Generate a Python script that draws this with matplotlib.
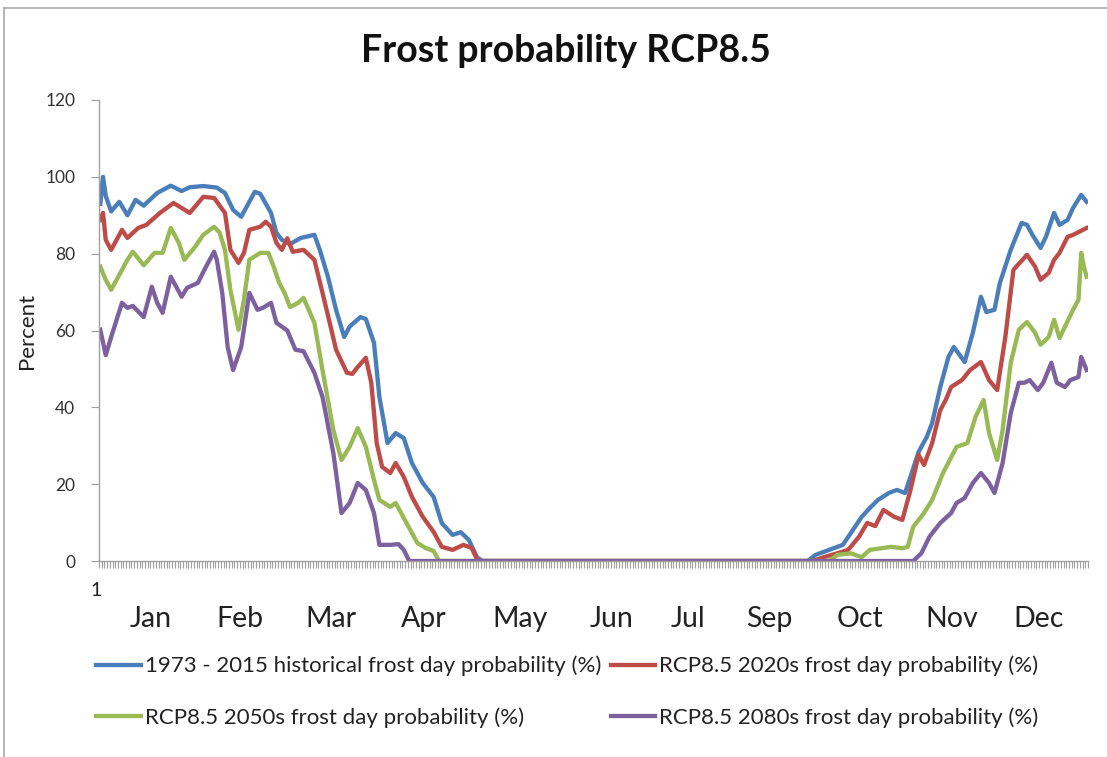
import numpy as np
import matplotlib
matplotlib.use("Agg")
import matplotlib.pyplot as plt
from matplotlib.lines import Line2D

plt.rcParams['font.family'] = ['Lato', 'DejaVu Sans']

# day-of-year / percent readings for each series
hist_days = [1, 2, 3, 5, 8, 11, 14, 17, 22, 27, 31, 34, 39, 44, 47, 50, 53, 55, 58, 60,
             64, 66, 68, 71, 75, 80, 82, 85, 88, 91, 93, 97, 99, 102, 104, 107, 110, 113,
             116, 120, 124, 127, 131, 134, 137, 140, 142, 262, 265, 270, 275, 278, 282,
             285, 288, 292, 295, 298, 300, 303, 306, 308, 311, 314, 316, 320, 323, 326,
             328, 331, 333, 337, 341, 343, 345, 348, 350, 353, 355, 358, 360, 363, 365]
hist_vals = [93, 100, 95, 91, 93.5, 90, 94, 92.5, 95.8, 97.7, 96.3, 97.3, 97.6, 97.2, 95.8,
             91.4, 89.6, 92.2, 96.1, 95.6, 90.6, 85.4, 83.6, 82.5, 84.1, 84.9, 81, 74, 65.4,
             58.3, 61, 63.5, 63, 56.8, 42.7, 30.7, 33.3, 32, 25.5, 20.3, 16.7, 9.9, 6.8, 7.5,
             5.5, 1, 0, 0, 1.6, 2.9, 4.2, 7.3, 11.5, 13.8, 15.9, 17.7, 18.5, 17.7, 21.9, 28.4,
             32.3, 35.9, 45.3, 53.1, 55.7, 51.8, 59.4, 68.8, 64.8, 65.4, 72.4, 81, 88, 87.5,
             84.9, 81.5, 84.4, 90.6, 87.5, 88.8, 91.9, 95.3, 93.5]

r2020_days = [1, 2, 3, 5, 9, 11, 15, 18, 23, 28, 31, 34, 39, 43, 47, 49, 52, 54, 56, 60,
              62, 64, 66, 68, 70, 72, 76, 80, 83, 86, 88, 92, 94, 96, 99, 101, 103, 105, 108,
              110, 113, 116, 120, 124, 127, 131, 135, 138, 140, 141, 264, 268, 273, 277, 281,
              284, 287, 290, 294, 297, 300, 303, 305, 308, 311, 313, 315, 319, 322, 326, 329,
              332, 335, 338, 343, 346, 348, 351, 353, 355, 358, 360, 362, 365]
r2020_vals = [88.8, 90.6, 83.6, 81, 86.2, 84.1, 86.7, 87.5, 90.6, 93.2, 91.9, 90.6, 94.8,
              94.5, 90.6, 81, 77.6, 80.2, 86.2, 87, 88.3, 87, 82.8, 81, 84, 80.5, 81, 78.4,
              69.8, 61, 55, 49, 48.7, 50.5, 52.9, 46.4, 30.7, 24.5, 22.9, 25.5, 21.9, 16.7,
              11.5, 7.6, 3.7, 2.9, 4.2, 3.4, 0.5, 0, 0, 1, 2, 2.9, 6.3, 9.9, 9.1, 13.3, 11.5,
              10.7, 18.5, 27.6, 25, 30.7, 39.3, 41.9, 45.3, 47.1, 49.7, 51.8, 47.1, 44.5, 58.3,
              75.8, 79.7, 76.6, 73.2, 75, 78.4, 80.2, 84.4, 84.9, 85.6, 86.7]

r2050_days = [1, 3, 5, 9, 11, 13, 17, 21, 24, 27, 30, 32, 36, 39, 43, 45, 47, 49, 52, 54,
              56, 60, 63, 65, 67, 69, 71, 74, 76, 80, 83, 87, 90, 93, 96, 99, 102, 104, 108,
              110, 114, 118, 121, 124, 126, 270, 273, 278, 282, 285, 289, 293, 297, 299, 301,
              305, 308, 312, 317, 321, 324, 327, 329, 332, 334, 337, 340, 343, 346, 348, 351,
              353, 355, 357, 360, 362, 363, 364, 365]
r2050_vals = [76.6, 73.2, 70.6, 75.8, 78.4, 80.5, 77, 80.2, 80.2, 86.7, 82.8, 78.4, 81.8,
              84.9, 87, 85.5, 81, 70.6, 60.2, 68, 78.4, 80.2, 80.2, 76.6, 72.4, 69.8, 66.1,
              67.2, 68.5, 62, 49.7, 34.1, 26.3, 29.7, 34.6, 29.7, 21.1, 15.9, 14.1, 15.1, 9.9,
              4.7, 3.4, 2.6, 0, 0, 1.6, 2, 1, 2.9, 3.3, 3.7, 3.3, 3.7, 8.9, 12.5, 15.9, 22.9,
              29.7, 30.7, 37.5, 41.9, 33.3, 26.3, 34.1, 51.6, 60.2, 62.2, 59.4, 56.3, 58.3,
              62.8, 58, 61, 65.4, 68, 80.2, 76.6, 74]

r2080_days = [1, 3, 5, 9, 11, 13, 17, 20, 22, 24, 27, 31, 33, 37, 40, 43, 44, 46, 48, 50,
              53, 56, 59, 61, 64, 66, 68, 70, 73, 76, 80, 83, 87, 90, 93, 96, 99, 102, 104,
              108, 111, 113, 115, 301, 304, 307, 311, 315, 317, 320, 323, 326, 329, 331, 334,
              337, 340, 342, 344, 347, 349, 352, 354, 357, 359, 362, 363, 365]
r2080_vals = [60.2, 53.6, 58.3, 67.2, 65.9, 66.4, 63.5, 71.4, 67.2, 64.6, 74, 68.8, 71.1,
              72.4, 76.6, 80.5, 78.4, 69.8, 55.7, 49.7, 55.7, 69.8, 65.4, 65.9, 67.2, 62, 61,
              60, 55, 54.6, 49, 42.7, 28.1, 12.5, 15.1, 20.3, 18.5, 12.5, 4.2, 4.2, 4.4, 2.9,
              0, 0, 2, 6.3, 9.9, 12.5, 15.1, 16.4, 20.3, 22.9, 20.3, 17.7, 25.5, 38.5, 46.4,
              46.4, 47.1, 44.5, 46.4, 51.6, 46.4, 45.3, 47.1, 47.9, 53.1, 49.7]

series = [
    (hist_days, hist_vals, '1973 - 2015 historical frost day probability (%)', '#4A7EBB'),
    (r2020_days, r2020_vals, 'RCP8.5 2020s frost day probability (%)', '#BE4B48'),
    (r2050_days, r2050_vals, 'RCP8.5 2050s frost day probability (%)', '#98B954'),
    (r2080_days, r2080_vals, 'RCP8.5 2080s frost day probability (%)', '#7D60A0'),
]

months = ['Jan', 'Feb', 'Mar', 'Apr', 'May', 'Jun', 'Jul', 'Sep', 'Oct', 'Nov', 'Dec']
month_pos = [19.7, 52.5, 86.1, 120.4, 155.8, 189.8, 217.8, 248, 281.3, 315.2, 347.3]

fig = plt.figure(figsize=(11.07, 7.57), dpi=100)
ax = fig.add_axes([0.0894, 0.2589, 0.8934, 0.609])

lines = {}
for d, v, lab, col in series:
    ln, = ax.plot(d, v, color=col, lw=3.1, label=lab, solid_joinstyle='round')
    lines[lab] = ln

ax.set_xlim(0.5, 365.5)
ax.set_ylim(0, 120)
ax.set_yticks(np.arange(0, 121, 20))
ax.set_xticks(np.arange(0.5, 366, 1))
ax.set_xticklabels([])
ax.tick_params(axis='x', length=5, width=0.8, color='#A0A0A0')
ax.tick_params(axis='y', length=6, width=0.8, color='#A0A0A0', labelsize=12.5,
               labelcolor='#333333', pad=11)
for s in ['top', 'right']:
    ax.spines[s].set_visible(False)
for s in ['left', 'bottom']:
    ax.spines[s].set_color('#A0A0A0')
    ax.spines[s].set_linewidth(1.0)

ax.set_ylabel('Percent', fontsize=16, color='#222222', labelpad=6)

# category label "1" and month labels under the axis
trans = ax.get_xaxis_transform()
ax.text(-0.5, -0.065, '1', transform=trans, ha='center', va='center', fontsize=14,
        color='#222222')
for m, p in zip(months, month_pos):
    ax.text(p, -0.125, m, transform=trans, ha='center', va='center', fontsize=20.5,
            color='#222222')

fig.text(0.511, 0.932, 'Frost probability RCP8.5', ha='center', va='center',
         fontsize=27, fontweight='bold', color='#111111')

order = [series[0][2], series[2][2], series[1][2], series[3][2]]
fig.legend([lines[k] for k in order], order, ncol=2, frameon=False,
           loc='upper left', bbox_to_anchor=(0.069, 0.16), fontsize=16,
           handlelength=2.0, handletextpad=0.2, labelspacing=1.4, columnspacing=0.4,
           labelcolor='#222222')

# chart frame edges visible in the screenshot
fig.add_artist(Line2D([0.0036, 1.0], [0.9894, 0.9894], color='#A8A8A8', lw=1.2))
fig.add_artist(Line2D([0.0036, 0.0036], [0.0, 0.9894], color='#A8A8A8', lw=1.2))

fig.savefig('out.png', dpi=100)
